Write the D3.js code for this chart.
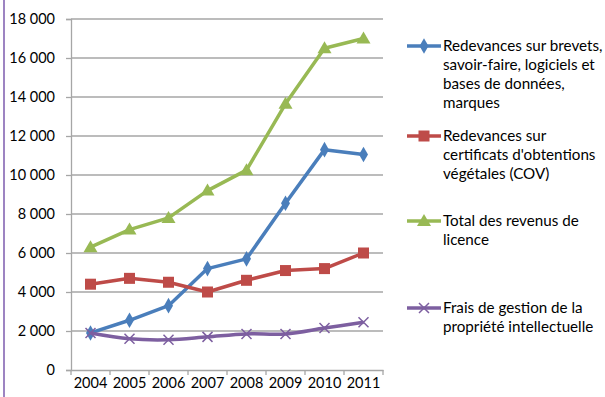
<!DOCTYPE html>
<html><head><meta charset="utf-8">
<script src="https://cdn.jsdelivr.net/npm/d3@7"></script>
<style>body{margin:0;background:#fff;}svg{display:block;}</style>
</head><body>
<svg id="chart" width="605" height="397"></svg>
<script>
const years = ["2004","2005","2006","2007","2008","2009","2010","2011"];
const brevets = [1900, 2550, 3300, 5200, 5700, 8550, 11300, 11050];
const cov = [4400, 4700, 4500, 4000, 4600, 5100, 5200, 6000];
const total = [6300, 7200, 7800, 9200, 10250, 13650, 16500, 17000];
const frais = [1900, 1600, 1550, 1700, 1850, 1850, 2150, 2450];
const yTicks = [0, 2000, 4000, 6000, 8000, 10000, 12000, 14000, 16000, 18000];
const seriesNames = [
  ["Redevances sur brevets,", "savoir-faire, logiciels et", "bases de données,", "marques"],
  ["Redevances sur", "certificats d'obtentions", "végétales (COV)"],
  ["Total des revenus de", "licence"],
  ["Frais de gestion de la", "propriété intellectuelle"]
];

(function () {
const series = [
  {values: brevets, color: "#4a7ebb", marker: "diamond", curve: d3.curveLinear},
  {values: cov, color: "#be4b48", marker: "square", curve: d3.curveLinear},
  {values: total, color: "#98b954", marker: "triangle", curve: d3.curveLinear},
  {values: frais, color: "#7d5fa0", marker: "x", curve: d3.curveCatmullRom.alpha(0.5)}
];
const legendY = [46, 136, 221, 308];

const svg = d3.select("#chart");
const font = "Lato, 'Open Sans', sans-serif";

svg.append("line").attr("x1", 4).attr("x2", 4).attr("y1", 0).attr("y2", 397)
  .attr("stroke", "#9d84c2").attr("stroke-width", 2);

const pLeft = 71, pRight = 383, pTop = 19, pBottom = 370;
const x = d3.scaleBand().domain(years).range([pLeft, pRight]);
const y = d3.scaleLinear().domain([0, 18000]).range([pBottom, pTop]);
const cx = d => x(d) + x.bandwidth() / 2;

svg.append("g").selectAll("line").data(yTicks.filter(t => t > 0)).join("line")
  .attr("x1", pLeft).attr("x2", pRight)
  .attr("y1", d => y(d)).attr("y2", d => y(d))
  .attr("stroke", "#a6a6a6").attr("stroke-width", 1.3);

const yAxis = d3.axisLeft(y).tickValues(yTicks).tickSize(5)
  .tickFormat(d => d3.format(",")(d).replace(/,/g, " "));
const gy = svg.append("g").attr("transform", `translate(${pLeft},0)`).call(yAxis);
gy.select(".domain").attr("stroke", "#a6a6a6").attr("stroke-width", 1.3);
gy.selectAll(".tick line").attr("stroke", "#a6a6a6").attr("stroke-width", 1.3);
gy.selectAll(".tick text").attr("font-family", font).attr("font-size", 14.5)
  .attr("fill", "#000").attr("x", -16);

const xAxis = d3.axisBottom(x).tickSize(0);
const gx = svg.append("g").attr("transform", `translate(0,${pBottom})`).call(xAxis);
gx.select(".domain").attr("stroke", "#a6a6a6").attr("stroke-width", 1.3);
gx.selectAll(".tick text").attr("font-family", font).attr("font-size", 14.5)
  .attr("fill", "#000").attr("dy", "0").attr("y", 18);
const bounds = years.map(d => x(d)).concat([pRight]);
gx.append("g").selectAll("line").data(bounds).join("line")
  .attr("x1", d => d).attr("x2", d => d).attr("y1", 0).attr("y2", 5)
  .attr("stroke", "#a6a6a6").attr("stroke-width", 1.3);

function drawMarker(g, type, px, py, color) {
  if (type === "diamond") {
    g.append("path").attr("d", d3.symbol(d3.symbolDiamond, 70)())
      .attr("transform", `translate(${px},${py})`).attr("fill", color);
  } else if (type === "square") {
    g.append("rect").attr("x", px - 5.5).attr("y", py - 5.5).attr("width", 11).attr("height", 11)
      .attr("fill", color);
  } else if (type === "triangle") {
    g.append("path").attr("d", `M${px},${py - 7}L${px + 7},${py + 5}L${px - 7},${py + 5}Z`)
      .attr("fill", color);
  } else {
    g.append("path").attr("d", `M${px - 5},${py - 5}L${px + 5},${py + 5}M${px - 5},${py + 5}L${px + 5},${py - 5}`)
      .attr("stroke", color).attr("stroke-width", 1.5).attr("fill", "none");
  }
}

series.forEach((s, i) => {
  const g = svg.append("g");
  const line = d3.line().x((d, j) => cx(years[j])).y(d => y(d)).curve(s.curve);
  g.append("path").datum(s.values).attr("d", line)
    .attr("fill", "none").attr("stroke", s.color).attr("stroke-width", 3.5)
    .attr("stroke-linejoin", "round");
  s.values.forEach((v, j) => drawMarker(g, s.marker, cx(years[j]), y(v), s.color));

  const ly = legendY[i];
  const lg = svg.append("g");
  lg.append("line").attr("x1", 407).attr("x2", 441).attr("y1", ly).attr("y2", ly)
    .attr("stroke", s.color).attr("stroke-width", 3.5);
  drawMarker(lg, s.marker, 424, ly, s.color);
  seriesNames[i].forEach((t, k) => {
    lg.append("text").attr("x", 443).attr("y", ly + 5 + k * 19)
      .attr("font-family", font).attr("font-size", 15.2).attr("fill", "#000").text(t);
  });
});
})();
</script>
</body></html>
